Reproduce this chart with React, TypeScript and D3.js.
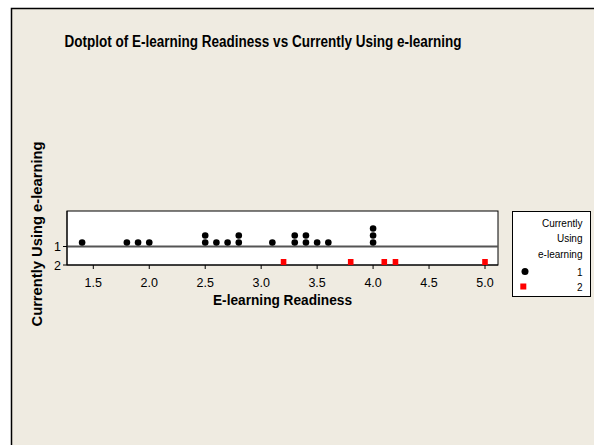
import React from "react";
import * as d3 from "d3";

const title = "Dotplot of E-learning Readiness vs Currently Using e-learning";
const xTitle = "E-learning Readiness";
const yTitle = "Currently Using e-learning";
const groups = ["1", "2"];
const usingValues = [1.4, 1.8, 1.9, 2.0, 2.5, 2.5, 2.6, 2.7, 2.8, 2.8, 3.1, 3.3, 3.3, 3.4, 3.4, 3.5, 3.6, 4.0, 4.0, 4.0];
const notUsingValues = [3.2, 3.8, 4.1, 4.2, 5.0];
const xTicks = [1.5, 2.0, 2.5, 3.0, 3.5, 4.0, 4.5, 5.0];
const legendTitle = ["Currently", "Using", "e-learning"];

const W = 594, H = 445;
const plot = { left: 67, right: 498, top: 211, bottom: 265 };
const font = "'Liberation Sans', Arial, sans-serif";

function stack(values: number[]) {
  const counts = new Map<number, number>();
  return values.map((v) => {
    const k = Math.round(v * 100);
    const c = counts.get(k) || 0;
    counts.set(k, c + 1);
    return { v, level: c };
  });
}

export default function App() {
  const x = d3.scaleLinear().domain([1.5, 5.0]).range([93.3, 485]);
  const y = d3.scalePoint<string>().domain(groups).range([246.5, 265]);
  const y1 = y("1")!;
  const y2 = y("2")!;
  const step = 7;
  const dots = stack(usingValues);
  const squares = stack(notUsingValues);

  return (
    <svg width={W} height={H} style={{ position: "absolute", left: 0, top: 0 }} fontFamily={font}>
      <rect x={0} y={0} width={W} height={H} fill="#ffffff" />
      <rect x={11.5} y={8.5} width={W + 10} height={H + 10} fill="#EFEBE1" stroke="#000" strokeWidth={1.5} />
      <text x={263} y={47} textAnchor="middle" fontWeight="bold" fontSize={16} textLength={397} lengthAdjust="spacingAndGlyphs">{title}</text>

      {/* plot box */}
      <rect x={plot.left} y={plot.top} width={plot.right - plot.left} height={plot.bottom - plot.top} fill="#fff" stroke="#000" strokeWidth={1} />
      <line x1={plot.left} x2={plot.right} y1={y1} y2={y1} stroke="#555" strokeWidth={1.8} />

      {/* x axis */}
      <line x1={plot.left} x2={plot.right} y1={plot.bottom} y2={plot.bottom} stroke="#000" strokeWidth={1.2} />
      {xTicks.map((t) => (
        <g key={t}>
          <line x1={x(t)} x2={x(t)} y1={plot.bottom} y2={plot.bottom + 4} stroke="#000" />
          <text x={x(t)} y={287} textAnchor="middle" fontSize={12.5} fill="#000">{t.toFixed(1)}</text>
        </g>
      ))}
      <text x={282.5} y={305} textAnchor="middle" fontWeight="bold" fontSize={14} textLength={139} lengthAdjust="spacingAndGlyphs">{xTitle}</text>

      {/* y axis */}
      <line x1={plot.left} x2={plot.left} y1={plot.top} y2={plot.bottom} stroke="#000" strokeWidth={1} />
      {groups.map((g) => (
        <g key={g}>
          <line x1={plot.left - 4} x2={plot.left} y1={y(g)!} y2={y(g)!} stroke="#000" />
          <text x={plot.left - 6} y={y(g)! + 4.5} textAnchor="end" fontSize={12.5}>{g}</text>
        </g>
      ))}
      <text transform={`translate(42,234) rotate(-90)`} textAnchor="middle" fontWeight="bold" fontSize={14} textLength={185} lengthAdjust="spacingAndGlyphs">{yTitle}</text>

      {/* data */}
      {dots.map((d, i) => (
        <circle key={"c" + i} cx={x(d.v)} cy={y1 - 4 - d.level * step} r={3.3} fill="#000" />
      ))}
      {squares.map((d, i) => (
        <rect key={"s" + i} x={x(d.v) - 2.8} y={y2 - 6 - d.level * step} width={5.6} height={6} fill="#FF0000" />
      ))}

      {/* legend */}
      <rect x={512.5} y={211.5} width={78} height={85} fill="#fff" stroke="#000" strokeWidth={1} />
      {legendTitle.map((t, i) => (
        <text key={t} x={582.5} y={226.5 + i * 15.8} textAnchor="end" fontSize={10}>{t}</text>
      ))}
      <circle cx={525} cy={271.5} r={3.5} fill="#000" />
      <text x={582.5} y={275.5} textAnchor="end" fontSize={10}>1</text>
      <rect x={520.3} y={283.5} width={6} height={6} fill="#FF0000" />
      <text x={582.5} y={290.5} textAnchor="end" fontSize={10}>2</text>
    </svg>
  );
}
